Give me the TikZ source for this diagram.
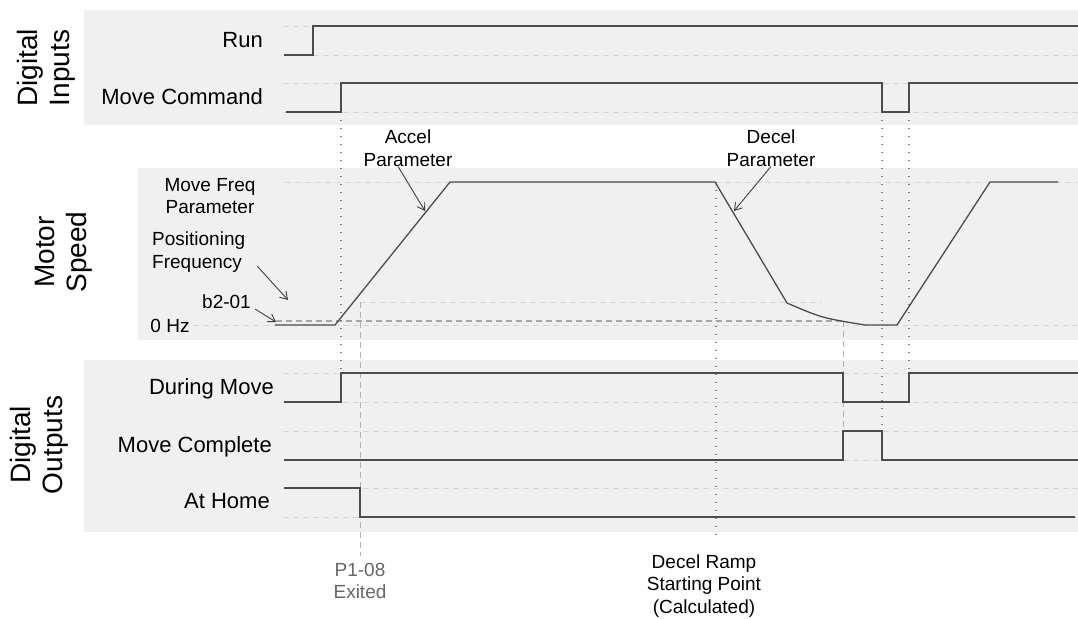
\documentclass[tikz,border=0pt]{standalone}
\usepackage{fontspec}
\setmainfont{Liberation Sans}
\usetikzlibrary{
    arrows.meta,
    positioning
}

\begin{document}
\begin{tikzpicture}[
    x=1pt,
    y=-1pt,
    every node/.style={
        inner sep=0pt,
        font=\fontsize{22pt}{25pt}\selectfont
    },
    panel/.style={
        fill=black!6,
        draw=none
    },
    signal/.style={
        draw=black!70,
        line width=1.3pt,
        line join=miter
    },
    refline/.style={
        draw=black!16,
        line width=0.9pt,
        dash pattern=on 6pt off 4pt
    },
    levelline/.style={
        draw=black!35,
        line width=1.3pt,
        dash pattern=on 6pt off 4pt
    },
    marker/.style={
        draw=black!50,
        line width=1.1pt,
        dash pattern=on 1.4pt off 6.6pt
    },
    guide/.style={
        draw=black!30,
        line width=1pt,
        dash pattern=on 6pt off 4pt
    },
    grouplabel/.style={
        rotate=90,
        align=center,
        font=\fontsize{28pt}{32pt}\selectfont
    },
    note/.style={
        align=center,
        font=\fontsize{19pt}{22.5pt}\selectfont
    },
    pointer/.style={
        draw=black!75,
        line width=0.9pt,
        -{Straight Barb[length=7pt,width=9pt]}
    }
]

    \useasboundingbox (0,0) rectangle (1078,618);

    % -------------------------------------------------------
    % Panels
    % -------------------------------------------------------
    \fill[panel] (84,10) rectangle (1078,125);
    \fill[panel] (138,168) rectangle (1078,340);
    \fill[panel] (84,360) rectangle (1078,532);

    % -------------------------------------------------------
    % Reference levels
    % -------------------------------------------------------
    \foreach \lvl in {26,55,83,112,373,402,431,460,488,517}
        \draw[refline] (283,\lvl) -- (1078,\lvl);

    \draw[refline] (285,182) -- (1078,182);
    \draw[refline] (193,325) -- (1078,325);
    \draw[refline] (360,302) -- (822,302);
    \draw[levelline] (276,321) -- (843,321);

    % -------------------------------------------------------
    % Event markers
    % -------------------------------------------------------
    \draw[marker] (341,112) -- (341,373);
    \draw[marker] (716,182) -- (716,541);
    \draw[marker] (882,112) -- (882,431);
    \draw[marker] (909,112) -- (909,373);

    \draw[guide] (360,302) -- (360,556);
    \draw[guide] (843,321) -- (843,460);

    % -------------------------------------------------------
    % Digital inputs
    % -------------------------------------------------------
    \node[grouplabel] (inputs) at (46,68) {Digital\\Inputs};

    \node[anchor=base east] (run) at (263,48) {Run};
    \node[anchor=base east] (movecmd) at (263,104) {Move Command};

    \draw[signal]
        (284,55) -- (313,55) -- (313,26) -- (1078,26);

    \draw[signal]
        (286,112) -- (341,112) -- (341,83)
        -- (882,83) -- (882,112) -- (909,112)
        -- (909,83) -- (1078,83);

    % -------------------------------------------------------
    % Motor speed
    % -------------------------------------------------------
    \node[grouplabel] (speed) at (64,252) {Motor\\Speed};

    \draw[signal]
        (275,325) -- (335,325) -- (450,182) -- (715,182)
        -- (787,303) .. controls (822,318) .. (865,325)
        -- (897,325) -- (990,182) -- (1058,182);

    \node[note] (movefreq) at (210,196) {Move Freq\\Parameter};

    \node[note, align=left, anchor=west] (posfreq) at (152,252)
        {Positioning\\Frequency};

    \node[note, anchor=base east] (b201) at (251,308) {b2-01};

    \node[note, anchor=base] (zerohz) at (170,332) {0 Hz};

    \node[note] (accel) at (408,148) {Accel\\Parameter};
    \node[note] (decel) at (771,148) {Decel\\Parameter};

    \coordinate (accelpt) at (425,211);
    \coordinate (decelpt) at (734,211);
    \coordinate (pospt) at (288,300);
    \coordinate (b2pt) at (276,322);

    \draw[pointer] ([xshift=-10pt]accel.south) -- (accelpt);
    \draw[pointer] (decel.south) -- (decelpt);
    \draw[pointer] ([xshift=12pt,yshift=6pt]posfreq.south east) -- (pospt);
    \draw[pointer] ([xshift=4pt,yshift=-1pt]b201.base east) -- (b2pt);

    % -------------------------------------------------------
    % Digital outputs
    % -------------------------------------------------------
    \node[grouplabel] (outputs) at (39,445) {Digital\\Outputs};

    \node[anchor=base east] (duringmove) at (274,394) {During Move};
    \node[anchor=base east] (movedone) at (272,452) {Move Complete};
    \node[anchor=base east] (athome) at (270,508) {At Home};

    \draw[signal]
        (284,402) -- (341,402) -- (341,373) -- (843,373)
        -- (843,402) -- (909,402) -- (909,373) -- (1078,373);

    \draw[signal]
        (284,460) -- (843,460) -- (843,431) -- (882,431)
        -- (882,460) -- (1078,460);

    \draw[signal]
        (284,488) -- (360,488) -- (360,517) -- (1075,517);

    % -------------------------------------------------------
    % Event captions
    % -------------------------------------------------------
    \node[note, text=black!60] (exited) at (360,581) {P1-08\\Exited};
    \node[note] (decelstart) at (704,586)
        {Decel Ramp\\Starting Point\\(Calculated)};

\end{tikzpicture}
\end{document}
